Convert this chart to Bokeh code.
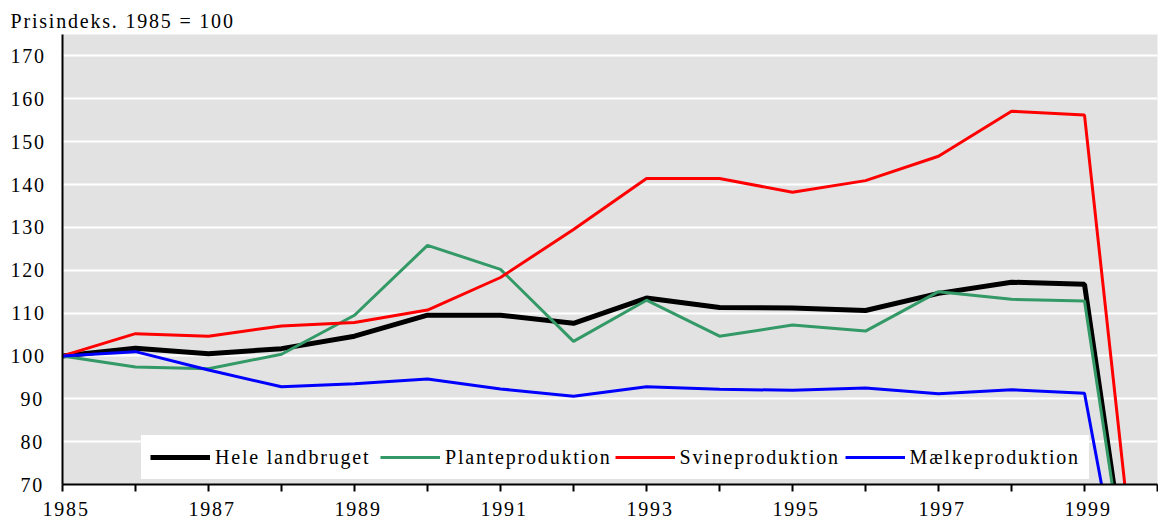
from bokeh.plotting import figure
from bokeh.models import Range1d, FixedTicker, Legend, LegendItem, InlineStyleSheet
from bokeh.embed import file_html
from bokeh.resources import INLINE

years = list(range(1985, 2001))
hele = [100, 101.8, 100.5, 101.7, 104.6, 109.5, 109.5, 107.6, 113.5, 111.3, 111.2, 110.6, 114.6, 117.2, 116.7, 0]
plante = [100, 97.4, 97.0, 100.4, 109.5, 125.8, 120.2, 103.4, 113.0, 104.6, 107.2, 105.8, 115.0, 113.2, 112.8, 0]
svine = [100, 105.2, 104.6, 107.0, 107.8, 110.7, 118.3, 129.5, 141.4, 141.4, 138.2, 140.9, 146.6, 157.1, 156.2, 0]
maelk = [100, 101.0, 96.7, 92.8, 93.5, 94.6, 92.3, 90.6, 92.8, 92.2, 92.0, 92.5, 91.2, 92.1, 91.3, 0]

series_names = ["Hele landbruget", "Planteproduktion", "Svineproduktion", "Mælkeproduktion"]
y_ticks = list(range(70, 171, 10))
x_label_years = list(range(1985, 2000, 2))

FONT = "Liberation Serif"

p = figure(width=1158, height=524, output_backend="svg", toolbar_location=None,
           x_range=Range1d(1985, 2000), y_range=Range1d(70, 175),
           min_border_left=62, min_border_right=1, min_border_top=34, min_border_bottom=40)
p.stylesheets = [InlineStyleSheet(css=":host { letter-spacing: 1.8px; }")]

p.title.text = "Prisindeks. 1985 = 100"
p.title.text_font = FONT
p.title.text_font_size = "20px"
p.title.text_font_style = "normal"
p.title.text_color = "black"
p.title.align = "left"
p.title.offset = -52
p.title.standoff = 5

p.background_fill_color = "#e2e2e2"
p.border_fill_color = "white"
p.outline_line_color = None

p.xgrid.grid_line_color = None
p.ygrid.grid_line_color = "white"
p.ygrid.grid_line_width = 2
p.ygrid.ticker = FixedTicker(ticks=y_ticks)

p.yaxis.ticker = FixedTicker(ticks=y_ticks)
p.yaxis.major_tick_line_color = None
p.yaxis.minor_tick_line_color = None
p.yaxis.axis_line_color = "black"
p.yaxis.axis_line_width = 2
p.yaxis.major_label_text_font = FONT
p.yaxis.major_label_text_font_size = "20px"
p.yaxis.major_label_text_color = "black"
p.yaxis.major_label_standoff = 16

p.xaxis.ticker = FixedTicker(ticks=years)
p.xaxis.major_label_overrides = {y: ("" if y not in x_label_years else str(y)) for y in years}
p.xaxis.major_tick_line_color = "black"
p.xaxis.major_tick_line_width = 2
p.xaxis.major_tick_out = 7
p.xaxis.major_tick_in = 0
p.xaxis.minor_tick_line_color = None
p.xaxis.axis_line_color = "black"
p.xaxis.axis_line_width = 2
p.xaxis.major_label_text_font = FONT
p.xaxis.major_label_text_font_size = "20px"
p.xaxis.major_label_text_color = "black"
p.xaxis.major_label_standoff = 10

r1 = p.line(years, hele, line_color="black", line_width=5)
r2 = p.line(years, plante, line_color="#339966", line_width=3)
r3 = p.line(years, svine, line_color="#ff0000", line_width=3)
r4 = p.line(years, maelk, line_color="#0000ff", line_width=3)

legend = Legend(items=[LegendItem(label=series_names[0], renderers=[r1]),
                       LegendItem(label=series_names[1], renderers=[r2]),
                       LegendItem(label=series_names[2], renderers=[r3]),
                       LegendItem(label=series_names[3], renderers=[r4])],
                orientation="horizontal", location=(79, 5),
                background_fill_color="white", background_fill_alpha=1.0,
                border_line_color="white", border_line_width=1,
                padding=8, spacing=3,
                glyph_width=60, glyph_height=26, label_height=26,
                label_standoff=5, label_width=162,
                label_text_font=FONT, label_text_font_size="20px",
                label_text_color="black")
p.add_layout(legend, "center")

open("out.html", "w").write(file_html(p, INLINE))
